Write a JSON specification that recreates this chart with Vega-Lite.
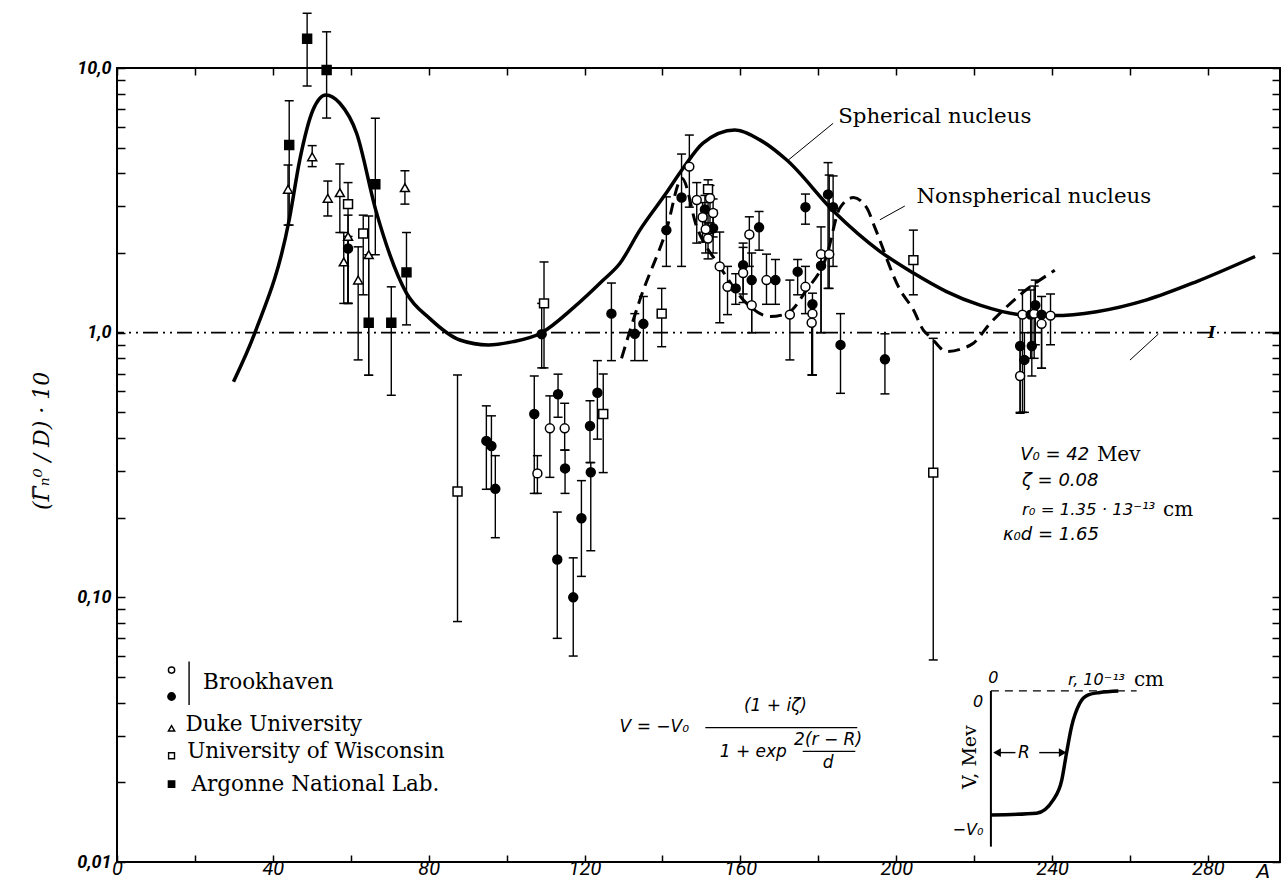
{
  "$schema": "https://vega.github.io/schema/vega-lite/v6.json",
  "autosize": {"type": "none"},
  "width": 1163,
  "height": 794,
  "padding": {"left": 117, "top": 68, "right": 2, "bottom": 24},
  "background": "white",
  "data": {"values": [{}]},
  "config": {
    "view": {"stroke": "black", "strokeWidth": 2},
    "axis": {"grid": false, "domain": false, "tickColor": "black", "tickWidth": 1.5, "labelColor": "black"}
  },
  "resolve": {"axis": {"x": "independent", "y": "independent"}},
  "datasets": {
    "pts": [
      {"A": 48.8, "v": 12.9, "lo": 8.55, "hi": 16.1, "lab": "ANL"},
      {"A": 53.8, "v": 9.83, "lo": 6.47, "hi": 13.7, "lab": "ANL"},
      {"A": 44.2, "v": 5.12, "lo": 2.55, "hi": 7.52, "lab": "ANL"},
      {"A": 43.9, "v": 3.48, "lo": 2.55, "hi": 4.3, "lab": "Duke"},
      {"A": 50.1, "v": 4.62, "lo": 4.24, "hi": 5.09, "lab": "Duke"},
      {"A": 54.1, "v": 3.22, "lo": 2.76, "hi": 3.74, "lab": "Duke"},
      {"A": 57.2, "v": 3.38, "lo": 2.39, "hi": 4.34, "lab": "Duke"},
      {"A": 59.3, "v": 3.06, "lo": 1.29, "hi": 3.69, "lab": "Wisc"},
      {"A": 59.3, "v": 2.08, "lo": 1.29, "hi": 2.31, "lab": "BNL-f"},
      {"A": 59.3, "v": 2.31, "lo": 1.29, "hi": 2.78, "lab": "Duke"},
      {"A": 58.2, "v": 1.85, "lo": 1.29, "hi": 2.39, "lab": "Duke"},
      {"A": 61.9, "v": 1.58, "lo": 0.789, "hi": 2.11, "lab": "Duke"},
      {"A": 63.2, "v": 2.37, "lo": 1.39, "hi": 2.78, "lab": "Wisc"},
      {"A": 64.6, "v": 1.97, "lo": 0.69, "hi": 2.76, "lab": "Duke"},
      {"A": 64.6, "v": 1.09, "lo": 0.69, "hi": 1.97, "lab": "ANL"},
      {"A": 66.3, "v": 3.64, "lo": 1.97, "hi": 6.46, "lab": "ANL"},
      {"A": 70.4, "v": 1.09, "lo": 0.58, "hi": 1.49, "lab": "ANL"},
      {"A": 73.9, "v": 3.53, "lo": 3.06, "hi": 4.09, "lab": "Duke"},
      {"A": 74.3, "v": 1.69, "lo": 1.07, "hi": 2.39, "lab": "ANL"},
      {"A": 87.4, "v": 0.251, "lo": 0.081, "hi": 0.692, "lab": "Wisc"},
      {"A": 94.8, "v": 0.39, "lo": 0.256, "hi": 0.529, "lab": "BNL-f"},
      {"A": 96.1, "v": 0.373, "lo": 0.256, "hi": 0.485, "lab": "BNL-f"},
      {"A": 97.1, "v": 0.257, "lo": 0.168, "hi": 0.343, "lab": "BNL-f"},
      {"A": 107.1, "v": 0.493, "lo": 0.247, "hi": 0.686, "lab": "BNL-f"},
      {"A": 107.9, "v": 0.294, "lo": 0.247, "hi": 0.343, "lab": "BNL-o"},
      {"A": 109.6, "v": 1.29, "lo": 0.736, "hi": 1.85, "lab": "Wisc"},
      {"A": 109.0, "v": 0.987, "lo": 0.736, "hi": 1.29, "lab": "BNL-f"},
      {"A": 113.2, "v": 0.585, "lo": 0.479, "hi": 0.697, "lab": "BNL-f"},
      {"A": 111.1, "v": 0.435, "lo": 0.284, "hi": 0.577, "lab": "BNL-o"},
      {"A": 114.9, "v": 0.435, "lo": 0.36, "hi": 0.541, "lab": "BNL-o"},
      {"A": 115.0, "v": 0.307, "lo": 0.247, "hi": 0.36, "lab": "BNL-f"},
      {"A": 113.0, "v": 0.139, "lo": 0.07, "hi": 0.21, "lab": "BNL-f"},
      {"A": 117.1, "v": 0.1, "lo": 0.06, "hi": 0.141, "lab": "BNL-f"},
      {"A": 119.2, "v": 0.199, "lo": 0.12, "hi": 0.276, "lab": "BNL-f"},
      {"A": 121.4, "v": 0.444, "lo": 0.323, "hi": 0.553, "lab": "BNL-f"},
      {"A": 121.6, "v": 0.297, "lo": 0.15, "hi": 0.323, "lab": "BNL-f"},
      {"A": 123.3, "v": 0.593, "lo": 0.396, "hi": 0.784, "lab": "BNL-f"},
      {"A": 124.8, "v": 0.493, "lo": 0.296, "hi": 0.698, "lab": "Wisc"},
      {"A": 126.9, "v": 1.18, "lo": 0.784, "hi": 1.54, "lab": "BNL-f"},
      {"A": 132.9, "v": 0.99, "lo": 0.784, "hi": 1.18, "lab": "BNL-f"},
      {"A": 135.1, "v": 1.08, "lo": 0.784, "hi": 1.37, "lab": "BNL-f"},
      {"A": 139.8, "v": 1.18, "lo": 0.885, "hi": 1.47, "lab": "Wisc"},
      {"A": 141.0, "v": 2.44, "lo": 1.78, "hi": 3.26, "lab": "BNL-f"},
      {"A": 144.9, "v": 3.24, "lo": 1.78, "hi": 4.73, "lab": "BNL-f"},
      {"A": 146.9, "v": 4.24, "lo": 2.98, "hi": 5.58, "lab": "BNL-o"},
      {"A": 148.8, "v": 3.17, "lo": 2.18, "hi": 3.69, "lab": "BNL-o"},
      {"A": 151.7, "v": 3.48, "lo": 2.37, "hi": 3.78, "lab": "Wisc"},
      {"A": 152.2, "v": 3.22, "lo": 2.6, "hi": 3.6, "lab": "BNL-o"},
      {"A": 150.9, "v": 2.92, "lo": 2.4, "hi": 3.3, "lab": "BNL-f"},
      {"A": 153.0, "v": 2.83, "lo": 2.3, "hi": 3.2, "lab": "BNL-o"},
      {"A": 150.3, "v": 2.73, "lo": 2.2, "hi": 3.1, "lab": "BNL-o"},
      {"A": 153.0, "v": 2.48, "lo": 2.0, "hi": 2.9, "lab": "BNL-f"},
      {"A": 151.1, "v": 2.46, "lo": 2.0, "hi": 2.9, "lab": "BNL-o"},
      {"A": 151.7, "v": 2.27, "lo": 1.9, "hi": 2.6, "lab": "BNL-o"},
      {"A": 154.7, "v": 1.78, "lo": 1.09, "hi": 2.4, "lab": "BNL-o"},
      {"A": 156.7, "v": 1.49, "lo": 1.17, "hi": 1.78, "lab": "BNL-o"},
      {"A": 158.8, "v": 1.47, "lo": 1.28, "hi": 1.67, "lab": "BNL-f"},
      {"A": 160.7, "v": 1.8, "lo": 1.4, "hi": 2.1, "lab": "BNL-f"},
      {"A": 160.7, "v": 1.68, "lo": 1.3, "hi": 2.18, "lab": "BNL-o"},
      {"A": 162.3, "v": 2.35, "lo": 1.78, "hi": 2.74, "lab": "BNL-o"},
      {"A": 162.9, "v": 1.58, "lo": 1.0, "hi": 2.0, "lab": "BNL-f"},
      {"A": 162.9, "v": 1.27, "lo": 1.0, "hi": 1.58, "lab": "BNL-o"},
      {"A": 164.8, "v": 2.5, "lo": 2.05, "hi": 2.87, "lab": "BNL-f"},
      {"A": 166.7, "v": 1.58, "lo": 1.28, "hi": 1.98, "lab": "BNL-o"},
      {"A": 169.0, "v": 1.58, "lo": 1.28, "hi": 1.89, "lab": "BNL-f"},
      {"A": 172.7, "v": 1.17, "lo": 0.789, "hi": 1.58, "lab": "BNL-o"},
      {"A": 174.7, "v": 1.7, "lo": 1.39, "hi": 1.89, "lab": "BNL-f"},
      {"A": 176.7, "v": 1.49, "lo": 1.18, "hi": 1.78, "lab": "BNL-o"},
      {"A": 176.7, "v": 2.98, "lo": 2.57, "hi": 3.34, "lab": "BNL-f"},
      {"A": 178.5, "v": 1.28, "lo": 0.692, "hi": 1.41, "lab": "BNL-f"},
      {"A": 178.5, "v": 1.18, "lo": 0.692, "hi": 1.28, "lab": "BNL-o"},
      {"A": 178.3, "v": 1.09, "lo": 0.692, "hi": 1.18, "lab": "BNL-o"},
      {"A": 180.7, "v": 1.79, "lo": 1.0, "hi": 2.0, "lab": "BNL-f"},
      {"A": 180.7, "v": 1.98, "lo": 1.0, "hi": 2.51, "lab": "BNL-o"},
      {"A": 182.8, "v": 1.98, "lo": 1.47, "hi": 3.94, "lab": "BNL-o"},
      {"A": 182.5, "v": 3.33, "lo": 1.47, "hi": 4.39, "lab": "BNL-f"},
      {"A": 183.8, "v": 2.98, "lo": 1.78, "hi": 3.91, "lab": "BNL-f"},
      {"A": 185.7, "v": 0.899, "lo": 0.59, "hi": 1.18, "lab": "BNL-f"},
      {"A": 197.1, "v": 0.793, "lo": 0.587, "hi": 0.99, "lab": "BNL-f"},
      {"A": 204.4, "v": 1.88, "lo": 1.39, "hi": 2.44, "lab": "Wisc"},
      {"A": 209.5, "v": 0.296, "lo": 0.058, "hi": 0.952, "lab": "Wisc"},
      {"A": 232.4, "v": 1.17, "lo": 0.5, "hi": 1.45, "lab": "BNL-o"},
      {"A": 231.8, "v": 0.89, "lo": 0.5, "hi": 1.17, "lab": "BNL-f"},
      {"A": 232.9, "v": 0.789, "lo": 0.5, "hi": 1.0, "lab": "BNL-f"},
      {"A": 231.8, "v": 0.686, "lo": 0.496, "hi": 0.89, "lab": "BNL-o"},
      {"A": 234.5, "v": 1.17, "lo": 0.8, "hi": 1.45, "lab": "BNL-f"},
      {"A": 235.4, "v": 1.18, "lo": 0.8, "hi": 1.5, "lab": "BNL-o"},
      {"A": 235.7, "v": 1.27, "lo": 0.9, "hi": 1.58, "lab": "BNL-f"},
      {"A": 234.8, "v": 0.89, "lo": 0.686, "hi": 1.17, "lab": "BNL-f"},
      {"A": 237.3, "v": 1.17, "lo": 0.734, "hi": 1.37, "lab": "BNL-f"},
      {"A": 239.6, "v": 1.16, "lo": 0.9, "hi": 1.4, "lab": "BNL-o"},
      {"A": 237.3, "v": 1.08, "lo": 0.734, "hi": 1.17, "lab": "BNL-o"}
    ],
    "sph": [
      {"A": 29.9, "v": 0.653}, {"A": 35.4, "v": 1.0}, {"A": 44.2, "v": 2.67},
      {"A": 46.9, "v": 4.49}, {"A": 50.3, "v": 6.94}, {"A": 53.6, "v": 7.91},
      {"A": 57.2, "v": 7.36}, {"A": 61.5, "v": 5.67}, {"A": 66.4, "v": 2.91},
      {"A": 74.3, "v": 1.41}, {"A": 80.3, "v": 1.13}, {"A": 88.0, "v": 0.938},
      {"A": 95.3, "v": 0.899}, {"A": 101.7, "v": 0.925}, {"A": 109.0, "v": 1.0},
      {"A": 117.1, "v": 1.24}, {"A": 124.8, "v": 1.58}, {"A": 129.1, "v": 1.83},
      {"A": 134.2, "v": 2.44}, {"A": 140.6, "v": 3.31}, {"A": 145.3, "v": 4.18},
      {"A": 150.4, "v": 5.2}, {"A": 158.6, "v": 5.83}, {"A": 165.0, "v": 5.35},
      {"A": 171.9, "v": 4.49}, {"A": 184.0, "v": 2.87}, {"A": 195.8, "v": 2.03},
      {"A": 204.4, "v": 1.68}, {"A": 212.9, "v": 1.43}, {"A": 221.5, "v": 1.27},
      {"A": 231.8, "v": 1.17}, {"A": 240.3, "v": 1.16}, {"A": 251.4, "v": 1.2},
      {"A": 264.3, "v": 1.33}, {"A": 277.1, "v": 1.56}, {"A": 292.1, "v": 1.94}
    ],
    "nsph": [
      {"A": 129.5, "v": 0.8}, {"A": 134.2, "v": 1.33}, {"A": 141.0, "v": 2.44},
      {"A": 145.0, "v": 3.83}, {"A": 148.8, "v": 2.51}, {"A": 154.7, "v": 1.78},
      {"A": 161.6, "v": 1.29}, {"A": 167.6, "v": 1.15}, {"A": 171.9, "v": 1.18},
      {"A": 177.0, "v": 1.45}, {"A": 182.1, "v": 1.94}, {"A": 185.5, "v": 2.95},
      {"A": 189.0, "v": 3.24}, {"A": 192.5, "v": 2.95}, {"A": 194.5, "v": 2.5},
      {"A": 201.0, "v": 1.45}, {"A": 204.4, "v": 1.22}, {"A": 207.0, "v": 1.02},
      {"A": 208.7, "v": 0.966}, {"A": 213.0, "v": 0.848}, {"A": 217.2, "v": 0.873},
      {"A": 219.8, "v": 0.912}, {"A": 224.1, "v": 1.085}, {"A": 228.3, "v": 1.25},
      {"A": 231.8, "v": 1.39}, {"A": 240.7, "v": 1.72}
    ],
    "step": [
      {"A": 224.3, "v": 0.01505}, {"A": 236.0, "v": 0.01529}, {"A": 240.3, "v": 0.01717},
      {"A": 242.5, "v": 0.02043}, {"A": 243.7, "v": 0.02576}, {"A": 245.0, "v": 0.03247},
      {"A": 247.1, "v": 0.0398}, {"A": 249.3, "v": 0.0428}, {"A": 252.3, "v": 0.0437},
      {"A": 257.0, "v": 0.0443}
    ]
  },
  "layer": [
    {
      "mark": {"type": "rule", "stroke": "black", "strokeWidth": 1.6, "strokeDash": [15, 5, 2, 5, 2, 5]},
      "encoding": {"y": {"datum": 1, "axis": null}}
    },
    {
      "data": {"name": "sph"},
      "mark": {"type": "line", "stroke": "black", "strokeWidth": 3.5, "interpolate": "monotone"},
      "encoding": {
        "x": {"field": "A", "type": "quantitative",
          "scale": {"domain": [0, 298.5], "nice": false, "zero": false},
          "axis": {"orient": "bottom", "title": null, "values": [0, 20, 40, 60, 80, 100, 120, 140, 160, 180, 200, 220, 240, 260, 280],
            "labelExpr": "datum.value % 40 == 0 ? datum.label : ''", "tickSize": -7, "labelPadding": 3,
            "labelFont": "Roboto", "labelFontStyle": "italic", "labelFontSize": 20, "labelFlush": false}},
        "y": {"field": "v", "type": "quantitative",
          "scale": {"type": "log", "domain": [0.01, 10], "nice": false},
          "axis": {"orient": "left", "title": null,
            "values": [0.01, 0.02, 0.03, 0.04, 0.05, 0.06, 0.07, 0.08, 0.09, 0.1, 0.2, 0.3, 0.4, 0.5, 0.6, 0.7, 0.8, 0.9, 1, 2, 3, 4, 5, 6, 7, 8, 9, 10],
            "labelExpr": "datum.value == 0.01 ? '0,01' : datum.value == 0.1 ? '0,10' : datum.value == 1 ? '1,0' : datum.value == 10 ? '10,0' : ''",
            "tickSize": -8, "labelPadding": 14, "labelFont": "Roboto", "labelFontStyle": "italic", "labelFontWeight": "bold", "labelFontSize": 18, "labelFlush": false}}
      }
    },
    {
      "data": {"name": "nsph"},
      "mark": {"type": "line", "stroke": "black", "strokeWidth": 3, "strokeDash": [12, 7], "interpolate": "monotone"},
      "encoding": {
        "x": {"field": "A", "type": "quantitative",
          "axis": {"orient": "top", "title": null, "labels": false, "tickSize": -7,
            "values": [0, 20, 40, 60, 80, 100, 120, 140, 160, 180, 200, 220, 240, 260, 280]}},
        "y": {"field": "v", "type": "quantitative",
          "axis": {"orient": "right", "title": null, "labels": false, "tickSize": -8,
            "values": [0.01, 0.02, 0.03, 0.04, 0.05, 0.06, 0.07, 0.08, 0.09, 0.1, 0.2, 0.3, 0.4, 0.5, 0.6, 0.7, 0.8, 0.9, 1, 2, 3, 4, 5, 6, 7, 8, 9, 10]}}
      }
    },
    {
      "data": {"name": "pts"},
      "mark": {"type": "rule", "stroke": "black", "strokeWidth": 1.4},
      "encoding": {
        "x": {"field": "A", "type": "quantitative", "axis": null},
        "y": {"field": "lo", "type": "quantitative", "axis": null},
        "y2": {"field": "hi"}
      }
    },
    {
      "data": {"name": "pts"},
      "mark": {"type": "tick", "orient": "horizontal", "size": 9, "thickness": 1.5, "color": "black", "opacity": 1},
      "encoding": {
        "x": {"field": "A", "type": "quantitative", "axis": null},
        "y": {"field": "lo", "type": "quantitative", "axis": null}
      }
    },
    {
      "data": {"name": "pts"},
      "mark": {"type": "tick", "orient": "horizontal", "size": 9, "thickness": 1.5, "color": "black", "opacity": 1},
      "encoding": {
        "x": {"field": "A", "type": "quantitative", "axis": null},
        "y": {"field": "hi", "type": "quantitative", "axis": null}
      }
    },
    {
      "data": {"name": "pts"},
      "mark": {"type": "point", "stroke": "black", "strokeWidth": 1.5, "size": 80, "opacity": 1, "fillOpacity": 1},
      "encoding": {
        "x": {"field": "A", "type": "quantitative", "axis": null},
        "y": {"field": "v", "type": "quantitative", "axis": null},
        "shape": {"field": "lab", "type": "nominal", "legend": null,
          "scale": {"domain": ["BNL-o", "BNL-f", "Duke", "Wisc", "ANL"], "range": ["circle", "circle", "triangle-up", "square", "square"]}},
        "fill": {"field": "lab", "type": "nominal", "legend": null,
          "scale": {"domain": ["BNL-o", "BNL-f", "Duke", "Wisc", "ANL"], "range": ["white", "black", "white", "white", "black"]}}
      }
    },
    {
      "mark": {"type": "text", "text": "Spherical nucleus", "font": "DejaVu Serif", "fontSize": 21.3, "align": "left", "baseline": "middle"},
      "encoding": {"x": {"datum": 185.1, "axis": null}, "y": {"datum": 6.55, "axis": null}}
    },
    {
      "mark": {"type": "rule", "stroke": "black", "strokeWidth": 1},
      "encoding": {"x": {"datum": 172.3, "axis": null}, "y": {"datum": 4.49, "axis": null}, "x2": {"datum": 183.8}, "y2": {"datum": 6.18}}
    },
    {
      "mark": {"type": "text", "text": "Nonspherical nucleus", "font": "DejaVu Serif", "fontSize": 21.3, "align": "left", "baseline": "middle"},
      "encoding": {"x": {"datum": 205.2, "axis": null}, "y": {"datum": 3.26, "axis": null}}
    },
    {
      "mark": {"type": "rule", "stroke": "black", "strokeWidth": 1},
      "encoding": {"x": {"datum": 195.8, "axis": null}, "y": {"datum": 2.67, "axis": null}, "x2": {"datum": 202.2}, "y2": {"datum": 3.01}}
    },
    {
      "mark": {"type": "rule", "stroke": "black", "strokeWidth": 1},
      "encoding": {"x": {"datum": 260.0, "axis": null}, "y": {"datum": 0.788, "axis": null}, "x2": {"datum": 267.3}, "y2": {"datum": 0.989}}
    },
    {
      "mark": {"type": "text", "text": "I", "font": "DejaVu Serif", "fontSize": 16, "fontStyle": "italic", "fontWeight": "bold", "align": "center", "baseline": "middle"},
      "encoding": {"x": {"datum": 281.0, "axis": null}, "y": {"datum": 1.0, "axis": null}}
    },
    {
      "mark": {"type": "text", "text": "V₀ = 42", "font": "DejaVu Sans", "fontStyle": "italic", "fontSize": 18, "align": "left", "baseline": "middle"},
      "encoding": {"x": {"datum": 231.8, "axis": null}, "y": {"datum": 0.345, "axis": null}}
    },
    {
      "mark": {"type": "text", "text": "Mev", "font": "DejaVu Serif", "fontSize": 20, "align": "left", "baseline": "middle"},
      "encoding": {"x": {"datum": 251.5, "axis": null}, "y": {"datum": 0.345, "axis": null}}
    },
    {
      "mark": {"type": "text", "text": "ζ = 0.08", "font": "DejaVu Sans", "fontStyle": "italic", "fontSize": 18, "align": "left", "baseline": "middle"},
      "encoding": {"x": {"datum": 232.3, "axis": null}, "y": {"datum": 0.274, "axis": null}}
    },
    {
      "mark": {"type": "text", "text": "r₀ = 1.35 · 13⁻¹³", "font": "DejaVu Sans", "fontStyle": "italic", "fontSize": 16.5, "align": "left", "baseline": "middle"},
      "encoding": {"x": {"datum": 232.3, "axis": null}, "y": {"datum": 0.214, "axis": null}}
    },
    {
      "mark": {"type": "text", "text": "cm", "font": "DejaVu Serif", "fontSize": 20, "align": "left", "baseline": "middle"},
      "encoding": {"x": {"datum": 268.5, "axis": null}, "y": {"datum": 0.214, "axis": null}}
    },
    {
      "mark": {"type": "text", "text": "κ₀d = 1.65", "font": "DejaVu Sans", "fontStyle": "italic", "fontSize": 18, "align": "left", "baseline": "middle"},
      "encoding": {"x": {"datum": 227.4, "axis": null}, "y": {"datum": 0.172, "axis": null}}
    },
    {
      "mark": {"type": "text", "text": "V = −V₀", "font": "DejaVu Sans", "fontStyle": "italic", "fontSize": 17, "align": "left", "baseline": "middle"},
      "encoding": {"x": {"datum": 129.0, "axis": null}, "y": {"datum": 0.0324, "axis": null}}
    },
    {
      "mark": {"type": "text", "text": "(1 + iζ)", "font": "DejaVu Sans", "fontStyle": "italic", "fontSize": 17, "align": "center", "baseline": "middle"},
      "encoding": {"x": {"datum": 169.0, "axis": null}, "y": {"datum": 0.0388, "axis": null}}
    },
    {
      "mark": {"type": "rule", "stroke": "black", "strokeWidth": 1.2},
      "encoding": {"x": {"datum": 151.0, "axis": null}, "y": {"datum": 0.0322, "axis": null}, "x2": {"datum": 190.0}, "y2": {"datum": 0.0322}}
    },
    {
      "mark": {"type": "text", "text": "1 + exp", "font": "DejaVu Sans", "fontStyle": "italic", "fontSize": 17, "align": "left", "baseline": "middle"},
      "encoding": {"x": {"datum": 154.7, "axis": null}, "y": {"datum": 0.0261, "axis": null}}
    },
    {
      "mark": {"type": "text", "text": "2(r − R)", "font": "DejaVu Sans", "fontStyle": "italic", "fontSize": 17, "align": "center", "baseline": "middle"},
      "encoding": {"x": {"datum": 182.5, "axis": null}, "y": {"datum": 0.0289, "axis": null}}
    },
    {
      "mark": {"type": "rule", "stroke": "black", "strokeWidth": 1.2},
      "encoding": {"x": {"datum": 176.0, "axis": null}, "y": {"datum": 0.0262, "axis": null}, "x2": {"datum": 189.5}, "y2": {"datum": 0.0262}}
    },
    {
      "mark": {"type": "text", "text": "d", "font": "DejaVu Sans", "fontStyle": "italic", "fontSize": 17, "align": "center", "baseline": "middle"},
      "encoding": {"x": {"datum": 182.5, "axis": null}, "y": {"datum": 0.0237, "axis": null}}
    },
    {
      "mark": {"type": "point", "shape": "circle", "size": 40, "stroke": "black", "strokeWidth": 1.4, "fill": "white", "opacity": 1},
      "encoding": {"x": {"datum": 14.0, "axis": null}, "y": {"datum": 0.0531, "axis": null}}
    },
    {
      "mark": {"type": "point", "shape": "circle", "size": 55, "stroke": "black", "strokeWidth": 1.4, "fill": "black", "opacity": 1},
      "encoding": {"x": {"datum": 14.0, "axis": null}, "y": {"datum": 0.0422, "axis": null}}
    },
    {
      "mark": {"type": "rule", "stroke": "black", "strokeWidth": 1.4},
      "encoding": {"x": {"datum": 18.5, "axis": null}, "y": {"datum": 0.0572, "axis": null}, "x2": {"datum": 18.5}, "y2": {"datum": 0.0392}}
    },
    {
      "mark": {"type": "text", "text": "Brookhaven", "font": "DejaVu Serif", "fontSize": 21.5, "align": "left", "baseline": "middle"},
      "encoding": {"x": {"datum": 22.1, "axis": null}, "y": {"datum": 0.0474, "axis": null}}
    },
    {
      "mark": {"type": "point", "shape": "triangle-up", "size": 40, "stroke": "black", "strokeWidth": 1.4, "fill": "white", "opacity": 1},
      "encoding": {"x": {"datum": 14.0, "axis": null}, "y": {"datum": 0.032, "axis": null}}
    },
    {
      "mark": {"type": "text", "text": "Duke University", "font": "DejaVu Serif", "fontSize": 21.5, "align": "left", "baseline": "middle"},
      "encoding": {"x": {"datum": 17.6, "axis": null}, "y": {"datum": 0.033, "axis": null}}
    },
    {
      "mark": {"type": "point", "shape": "square", "size": 35, "stroke": "black", "strokeWidth": 1.4, "fill": "white", "opacity": 1},
      "encoding": {"x": {"datum": 14.0, "axis": null}, "y": {"datum": 0.0252, "axis": null}}
    },
    {
      "mark": {"type": "text", "text": "University of Wisconsin", "font": "DejaVu Serif", "fontSize": 21.5, "align": "left", "baseline": "middle"},
      "encoding": {"x": {"datum": 18.0, "axis": null}, "y": {"datum": 0.0261, "axis": null}}
    },
    {
      "mark": {"type": "point", "shape": "square", "size": 40, "stroke": "black", "strokeWidth": 1.4, "fill": "black", "opacity": 1},
      "encoding": {"x": {"datum": 14.0, "axis": null}, "y": {"datum": 0.0197, "axis": null}}
    },
    {
      "mark": {"type": "text", "text": "Argonne National Lab.", "font": "DejaVu Serif", "fontSize": 21.5, "align": "left", "baseline": "middle"},
      "encoding": {"x": {"datum": 19.1, "axis": null}, "y": {"datum": 0.0196, "axis": null}}
    },
    {
      "data": {"name": "step"},
      "mark": {"type": "line", "stroke": "black", "strokeWidth": 3.5, "interpolate": "monotone"},
      "encoding": {"x": {"field": "A", "type": "quantitative", "axis": null}, "y": {"field": "v", "type": "quantitative", "axis": null}}
    },
    {
      "mark": {"type": "rule", "stroke": "black", "strokeWidth": 1.4, "strokeDash": [8, 6]},
      "encoding": {"x": {"datum": 224.3, "axis": null}, "y": {"datum": 0.0443, "axis": null}, "x2": {"datum": 261.7}, "y2": {"datum": 0.0443}}
    },
    {
      "mark": {"type": "rule", "stroke": "black", "strokeWidth": 2},
      "encoding": {"x": {"datum": 224.3, "axis": null}, "y": {"datum": 0.0443, "axis": null}, "x2": {"datum": 224.3}, "y2": {"datum": 0.01143}}
    },
    {
      "mark": {"type": "rule", "stroke": "black", "strokeWidth": 1.4},
      "encoding": {"x": {"datum": 225.3, "axis": null}, "y": {"datum": 0.0259, "axis": null}, "x2": {"datum": 230.6}, "y2": {"datum": 0.0259}}
    },
    {
      "mark": {"type": "rule", "stroke": "black", "strokeWidth": 1.4},
      "encoding": {"x": {"datum": 236.7, "axis": null}, "y": {"datum": 0.0259, "axis": null}, "x2": {"datum": 243.3}, "y2": {"datum": 0.0259}}
    },
    {
      "mark": {"type": "point", "shape": "triangle-left", "size": 30, "fill": "black", "stroke": "black", "opacity": 1},
      "encoding": {"x": {"datum": 226.0, "axis": null}, "y": {"datum": 0.0259, "axis": null}}
    },
    {
      "mark": {"type": "point", "shape": "triangle-right", "size": 30, "fill": "black", "stroke": "black", "opacity": 1},
      "encoding": {"x": {"datum": 242.6, "axis": null}, "y": {"datum": 0.0259, "axis": null}}
    },
    {
      "mark": {"type": "text", "text": "R", "font": "DejaVu Sans", "fontStyle": "italic", "fontSize": 17, "align": "center", "baseline": "middle"},
      "encoding": {"x": {"datum": 232.8, "axis": null}, "y": {"datum": 0.0259, "axis": null}}
    },
    {
      "mark": {"type": "text", "text": "0", "font": "DejaVu Sans", "fontStyle": "italic", "fontSize": 16, "align": "center", "baseline": "middle"},
      "encoding": {"x": {"datum": 224.9, "axis": null}, "y": {"datum": 0.0495, "axis": null}}
    },
    {
      "mark": {"type": "text", "text": "0", "font": "DejaVu Sans", "fontStyle": "italic", "fontSize": 16, "align": "center", "baseline": "middle"},
      "encoding": {"x": {"datum": 221.0, "axis": null}, "y": {"datum": 0.0404, "axis": null}}
    },
    {
      "mark": {"type": "text", "text": "r, 10⁻¹³", "font": "DejaVu Sans", "fontStyle": "italic", "fontSize": 16, "align": "left", "baseline": "middle"},
      "encoding": {"x": {"datum": 244.1, "axis": null}, "y": {"datum": 0.0488, "axis": null}}
    },
    {
      "mark": {"type": "text", "text": "cm", "font": "DejaVu Serif", "fontSize": 20, "align": "left", "baseline": "middle"},
      "encoding": {"x": {"datum": 261.0, "axis": null}, "y": {"datum": 0.0488, "axis": null}}
    },
    {
      "mark": {"type": "text", "text": "V, Mev", "font": "DejaVu Serif", "fontSize": 19, "angle": 270, "align": "center", "baseline": "middle"},
      "encoding": {"x": {"datum": 219.0, "axis": null}, "y": {"datum": 0.0249, "axis": null}}
    },
    {
      "mark": {"type": "text", "text": "−V₀", "font": "DejaVu Sans", "fontStyle": "italic", "fontSize": 16, "align": "center", "baseline": "middle"},
      "encoding": {"x": {"datum": 218.4, "axis": null}, "y": {"datum": 0.0132, "axis": null}}
    },
    {
      "mark": {"type": "text", "text": "A", "font": "DejaVu Sans", "fontStyle": "italic", "fontSize": 20, "align": "center", "baseline": "middle", "dy": 10},
      "encoding": {"x": {"datum": 294.2, "axis": null}, "y": {"datum": 0.01, "axis": null}}
    },
    {
      "mark": {"type": "text", "text": "(Γ̅ₙ⁰ / D) · 10", "font": "DejaVu Serif", "fontStyle": "italic", "fontSize": 22, "angle": 270, "align": "center", "baseline": "middle"},
      "encoding": {"x": {"datum": -19.3, "axis": null}, "y": {"datum": 0.39, "axis": null}}
    }
  ]
}
